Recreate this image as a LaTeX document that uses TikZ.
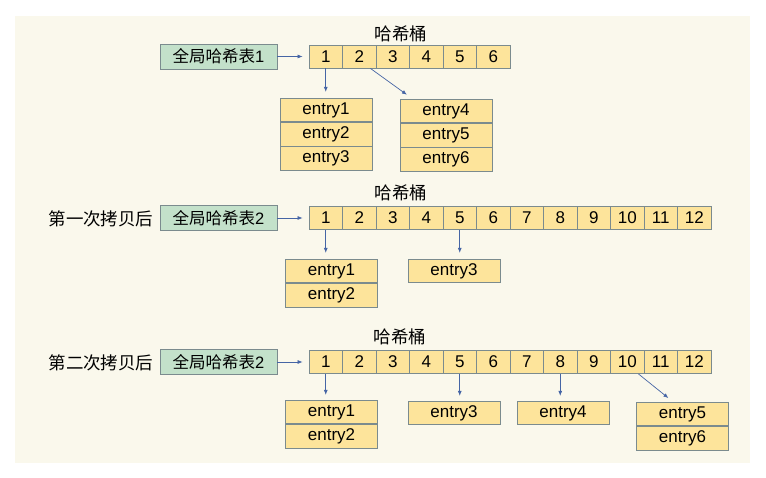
\documentclass[tikz,border=0pt]{standalone}
\usepackage{fontspec}
\setmainfont{Liberation Sans}
\newfontfamily\cjk{Noto Sans CJK SC}
\usetikzlibrary{arrows.meta, positioning}
\definecolor{panelbg}{HTML}{FAF8EC}
\definecolor{cellfill}{HTML}{FDE49B}
\definecolor{tabfill}{HTML}{C3E1CA}
\definecolor{edgegrey}{HTML}{7B8B8E}
\definecolor{ptrblue}{HTML}{4565A5}

\begin{document}
\begin{tikzpicture}[x=1pt, y=-1pt,
  cell/.style={draw=edgegrey, fill=cellfill, line width=0.8pt, minimum width=33.5pt,
    minimum height=23pt, inner sep=0pt, font=\fontsize{17}{19}\selectfont},
  entrybox/.style={cell, minimum width=92pt, minimum height=23.5pt},
  hashtab/.style={draw=edgegrey, fill=tabfill, line width=0.8pt, minimum width=117pt,
    minimum height=25pt, inner sep=0pt, font=\fontsize{16.5}{19}\selectfont},
  title/.style={font=\fontsize{17.5}{19}\selectfont\cjk},
  sidelabel/.style={font=\fontsize{17.5}{20}\selectfont\cjk},
  ptr/.style={draw=ptrblue, line width=0.7pt, -{Latex[length=5pt,width=4pt]}}]
% background
\fill [white] (0,0) rectangle (766,478);
\fill [panelbg] (15,16) rectangle (750,463);

% first state
\node (t1) at (401,34) [title] {哈希桶};
\node (ht1) at (218.5,56.5) [hashtab] {{\cjk 全局哈希表}1};
\foreach \i in {1,...,6}
  \node (b1-\i) at ({309+33.5*(\i-0.5)},56.5) [cell] {\i};
\node (e1a) at (326,110) [entrybox] {entry1};
\node (e1b) [entrybox, below=0pt of e1a] {entry2};
\node (e1c) [entrybox, below=0pt of e1b] {entry3};
\node (e1d) at (446,111) [entrybox] {entry4};
\node (e1e) [entrybox, below=0pt of e1d] {entry5};
\node (e1f) [entrybox, below=0pt of e1e] {entry6};
\draw [ptr, shorten >=6pt] (ht1) -- (b1-1);
\draw [ptr, shorten >=6pt] (b1-1.south) -- (b1-1.south |- e1a.north);
\draw [ptr, shorten >=7pt] ([xshift=-6pt]b1-2.south east) -- ([xshift=13pt]e1d.north west);

% after first copy
\node (t2) at (401,193) [title] {哈希桶};
\node (l2) at (101,219) [sidelabel] {第一次拷贝后};
\node (ht2) at (218.5,218) [hashtab] {{\cjk 全局哈希表}2};
\foreach \i in {1,...,12}
  \node (b2-\i) at ({309+33.5*(\i-0.5)},218) [cell] {\i};
\node (e2a) at (331.5,271) [entrybox] {entry1};
\node (e2b) [entrybox, below=0pt of e2a] {entry2};
\node (e2c) at (454,271) [entrybox] {entry3};
\draw [ptr, shorten >=6pt] (ht2) -- (b2-1);
\draw [ptr, shorten >=6pt] (b2-1.south) -- (b2-1.south |- e2a.north);
\draw [ptr, shorten >=6pt] (b2-5.south) -- (b2-5.south |- e2c.north);

% after second copy
\node (t3) at (400,337) [title] {哈希桶};
\node (l3) at (101,363) [sidelabel] {第二次拷贝后};
\node (ht3) at (218.5,362) [hashtab] {{\cjk 全局哈希表}2};
\foreach \i in {1,...,12}
  \node (b3-\i) at ({309+33.5*(\i-0.5)},362) [cell] {\i};
\node (e3a) at (331.5,412) [entrybox] {entry1};
\node (e3b) [entrybox, below=0pt of e3a] {entry2};
\node (e3c) at (454,413) [entrybox] {entry3};
\node (e3d) at (563,413) [entrybox] {entry4};
\node (e3e) at (682.5,414) [entrybox] {entry5};
\node (e3f) [entrybox, below=0pt of e3e] {entry6};
\draw [ptr, shorten >=6pt] (ht3) -- (b3-1);
\draw [ptr, shorten >=5pt] (b3-1.south) -- (b3-1.south |- e3a.north);
\draw [ptr, shorten >=5pt] (b3-5.south) -- (b3-5.south |- e3c.north);
\draw [ptr, shorten >=5pt] (b3-8.south) -- (b3-8.south |- e3d.north);
\draw [ptr, shorten >=6pt] ([xshift=-6pt]b3-10.south east) -- ([xshift=37pt]e3e.north west);
\end{tikzpicture}
\end{document}
